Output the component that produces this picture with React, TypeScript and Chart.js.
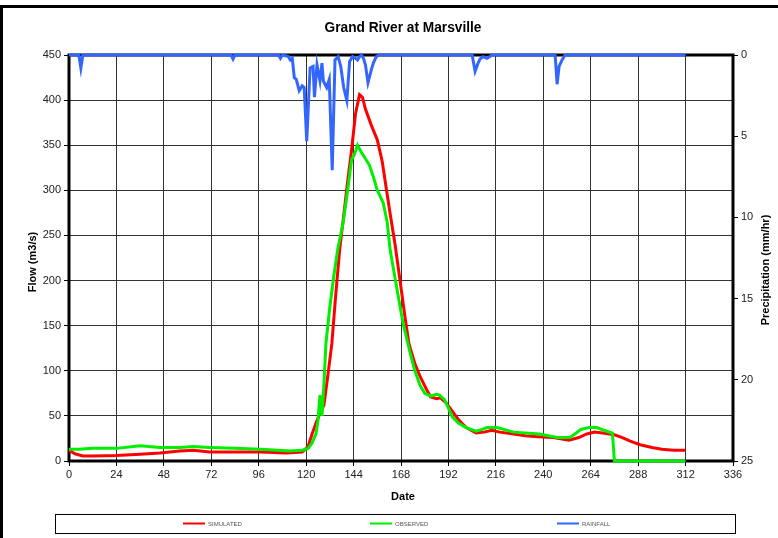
import React, { useEffect, useRef } from "react";
import { Chart, registerables } from "chart.js";

Chart.register(...registerables);

const chartTitle = "Grand River at Marsville";
const xTitle = "Date";
const yTitle = "Flow (m3/s)";
const y2Title = "Precipitation (mm/hr)";
const legendLabels = ["SIMULATED", "OBSERVED", "RAINFALL"];

const simHours = [0, 3, 7, 12, 24, 36, 46, 56, 63, 71, 84, 97, 110, 118, 121, 123, 125, 127, 129, 131, 133, 135, 137, 139, 141, 143, 145, 147, 148.5, 150, 153, 156, 158.5, 160, 162.5, 165, 167.5, 170, 172, 175, 178, 181, 183, 186, 188, 191, 194, 197, 201, 206, 210, 214, 218, 225, 231, 237, 245, 253, 258, 262, 266, 270, 276, 280, 284, 289, 295, 300, 306, 312];
const simFlow = [12, 8, 5.5, 5.5, 6, 7.5, 9, 11, 12, 10, 10, 10, 9, 10, 16, 30, 42, 53, 62, 95, 130, 185, 235, 272, 310, 345, 385, 406, 403, 390, 372, 356, 332, 310, 274, 240, 200, 160, 130, 108, 92, 79, 71, 69, 70, 64, 55, 46, 37, 31, 32, 34, 32, 30, 28, 27, 26, 23, 26, 30, 32, 31, 29, 26, 22, 18, 15, 13, 12, 12];

const obsHours = [0, 5, 12, 24, 36, 46, 56, 63, 71, 84, 97, 112, 118, 121, 123, 125, 126, 127, 128, 129, 130, 132, 134, 136, 138.7, 141, 143, 144.5, 146, 148, 150, 152, 154, 156, 159, 161, 162.5, 166, 169, 172.6, 175, 177.6, 180, 183, 186, 187.5, 190, 194, 197, 201, 206, 209, 211.5, 216.6, 225, 238, 247, 253.5, 256, 259, 263, 267, 272, 275, 276, 312];
const obsFlow = [13, 13, 14, 14, 17, 15, 15, 16, 15, 14, 13, 11, 12, 14, 20, 30, 45, 73, 50, 85, 130, 171, 205, 235, 264, 300, 334, 340, 350, 342, 335, 328, 315, 300, 286, 265, 234, 190, 153, 120, 100, 84, 75, 72, 74, 73, 68, 49, 42, 37, 33, 35, 37, 37, 32, 30, 26, 26, 30, 35, 37, 37, 33, 31, 0, 0];

const rainHours = [0, 5, 6, 7, 82, 83, 84, 106, 107, 108, 111, 112, 113, 114, 115, 116.5, 118, 119, 120.3, 122, 123.5, 124.2, 125.5, 127, 128, 128.7, 130.4, 131.7, 133.2, 134.6, 136.2, 137.5, 139, 140.6, 142, 143.5, 145, 146, 147, 148, 149, 150, 151.3, 153, 154, 155.5, 157, 204, 205.5, 207, 208, 209.5, 211.5, 213, 214, 246, 247, 248, 249.5, 251, 312];
const rainValues = [0, 0, 0.8, 0, 0, 0.25, 0, 0, 0.2, 0, 0.1, 0.3, 0.2, 1.4, 1.5, 2.2, 1.9, 2.0, 5.3, 0.8, 0.7, 2.6, 0.6, 1.6, 0.5, 1.6, 2.0, 1.5, 7.1, 0.3, 0.1, 0.7, 2.0, 2.8, 0.4, 0.1, 0.2, 0.3, 0.1, 0, 0.2, 0.6, 1.7, 0.9, 0.5, 0.1, 0, 0, 1.0, 0.5, 0.25, 0.1, 0.2, 0.1, 0, 0, 1.8, 0.7, 0.3, 0, 0];

const RED = "#ff0000";
const GREEN = "#00ee00";
const BLUE = "#3366ff";
const FONT = "'Liberation Sans', Arial, sans-serif";

const toPoints = (xs: number[], ys: number[]) => xs.map((x, i) => ({ x, y: ys[i] }));

const decorPlugin = {
  id: "decor",
  beforeDatasetsDraw(chart: any) {
    const { ctx, chartArea } = chart;
    ctx.save();
    ctx.strokeStyle = "#000";
    ctx.lineWidth = 3;
    ctx.strokeRect(chartArea.left, chartArea.top, chartArea.right - chartArea.left, chartArea.bottom - chartArea.top);
    ctx.restore();
  },
  afterDraw(chart: any) {
    const { ctx, chartArea } = chart;
    ctx.save();
    // outer frame (left + top)
    ctx.fillStyle = "#000";
    ctx.fillRect(0, 5, 778, 3);
    ctx.fillRect(0, 5, 3, 533);

    // title
    ctx.fillStyle = "#000";
    ctx.font = `bold 14px ${FONT}`;
    ctx.textAlign = "center";
    ctx.textBaseline = "middle";
    const tw = ctx.measureText(chartTitle).width;
    const sx = 157 / tw;
    ctx.save();
    ctx.translate(403, 28);
    ctx.scale(sx, 1);
    ctx.fillText(chartTitle, 0, 0);
    ctx.restore();

    // axis titles
    ctx.font = `bold 11px ${FONT}`;
    ctx.fillText(xTitle, 403, 497);
    const cy = (chartArea.top + chartArea.bottom) / 2;
    ctx.save();
    ctx.translate(33, cy + 4);
    ctx.rotate(-Math.PI / 2);
    ctx.fillText(yTitle, 0, 0);
    ctx.restore();
    ctx.save();
    ctx.translate(766, cy + 12);
    ctx.rotate(-Math.PI / 2);
    ctx.fillText(y2Title, 0, 0);
    ctx.restore();

    // legend
    ctx.strokeStyle = "#000";
    ctx.lineWidth = 1;
    ctx.strokeRect(55.5, 514.5, 680, 19);
    const items = [
      { x: 183, color: RED },
      { x: 370, color: GREEN },
      { x: 557, color: BLUE },
    ];
    ctx.font = `6px ${FONT}`;
    ctx.textAlign = "left";
    ctx.fillStyle = "#555";
    items.forEach((it, i) => {
      ctx.strokeStyle = it.color;
      ctx.lineWidth = 2;
      ctx.beginPath();
      ctx.moveTo(it.x, 523.5);
      ctx.lineTo(it.x + 22, 523.5);
      ctx.stroke();
      ctx.fillText(legendLabels[i], it.x + 25, 524);
    });
    ctx.restore();
  },
};

export default function App() {
  const ref = useRef<HTMLCanvasElement | null>(null);
  useEffect(() => {
    if (!ref.current) return;
    const chart = new Chart(ref.current, {
      type: "line",
      data: {
        datasets: [
          {
            label: legendLabels[1],
            data: toPoints(obsHours, obsFlow),
            borderColor: GREEN,
            borderWidth: 3,
            pointRadius: 0,
            tension: 0,
            yAxisID: "y",
            clip: false,
          },
          {
            label: legendLabels[0],
            data: toPoints(simHours, simFlow),
            borderColor: RED,
            borderWidth: 3,
            pointRadius: 0,
            tension: 0,
            yAxisID: "y",
            clip: false,
            order: 1,
          },
          {
            label: legendLabels[2],
            data: toPoints(rainHours, rainValues),
            borderColor: BLUE,
            borderWidth: 3,
            pointRadius: 0,
            tension: 0,
            yAxisID: "y2",
            clip: false,
          },
        ],
      },
      options: {
        animation: false,
        responsive: false,
        maintainAspectRatio: false,
        layout: { padding: { top: 55, left: 0, right: 0, bottom: 0 } },
        plugins: { legend: { display: false }, title: { display: false }, tooltip: { enabled: false } },
        scales: {
          x: {
            type: "linear",
            min: 0,
            max: 336,
            ticks: { stepSize: 24, color: "#222", font: { family: FONT, size: 11 }, padding: 2, maxRotation: 0 },
            grid: { color: "#333", lineWidth: 1, tickLength: 5, tickColor: "#000" },
            border: { display: false },
            afterFit: (s: any) => { s.height = 77; },
          },
          y: {
            type: "linear",
            position: "left",
            min: 0,
            max: 450,
            ticks: { stepSize: 50, color: "#222", font: { family: FONT, size: 11 }, padding: 3 },
            grid: { color: "#333", lineWidth: 1, tickLength: 5, tickColor: "#000" },
            border: { display: false },
            afterFit: (s: any) => { s.width = 69; },
          },
          y2: {
            type: "linear",
            position: "right",
            min: 0,
            max: 25,
            reverse: true,
            ticks: { stepSize: 5, color: "#222", font: { family: FONT, size: 11 }, padding: 3 },
            grid: { drawOnChartArea: false, tickLength: 5, tickColor: "#000" },
            border: { display: false },
            afterFit: (s: any) => { s.width = 45; },
          },
        },
      },
      plugins: [decorPlugin],
    } as any);
    return () => chart.destroy();
  }, []);
  return (
    <div style={{ position: "fixed", left: 0, top: 0, width: 778, height: 538, background: "#fff" }}>
      <canvas ref={ref} width={778} height={538} style={{ width: 778, height: 538 }} />
    </div>
  );
}
